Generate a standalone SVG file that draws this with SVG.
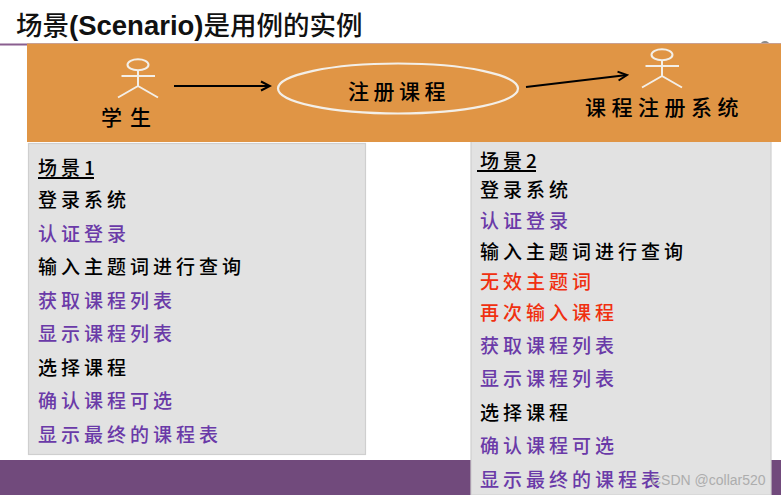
<svg xmlns="http://www.w3.org/2000/svg" width="781" height="495" viewBox="0 0 781 495">
<style>
text{font-family:"Noto Sans CJK SC","Noto Sans CJK JP",sans-serif;font-size:19px;letter-spacing:4px;font-weight:500}
.k{fill:#000}.p{fill:#6a3aa8}.r{fill:#f03010}
.panel{fill:#e2e2e2;stroke:#cfcfcf;stroke-width:1.2}
.actor{fill:none;stroke:#f3efe8;stroke-width:2}
.conn{stroke:#000;stroke-width:2;fill:none;marker-end:url(#a)}
</style>
<defs>
<marker id="a" markerUnits="userSpaceOnUse" markerWidth="12" markerHeight="12" refX="10" refY="6" orient="auto"><path d="M1 1.500L10 6L1 10.500" fill="none" stroke="#000" stroke-width="2"/></marker>
<g id="stick"><ellipse cx="0" cy="-8.300" rx="10.500" ry="5.500" class="actor"/><path class="actor" d="M0-2.800V13M-16.500 3H17M0 13L-20 24.500M0 13L20 24.500"/></g>
</defs>
<rect width="781" height="495" fill="#fff"/>
<g id="title">
<text x="16" y="35" style="font-family:'Liberation Sans','Noto Sans CJK SC',sans-serif;font-size:26.500px;letter-spacing:0;font-weight:500;fill:#111">场景<tspan font-weight="700" style="font-size:27.500px">(Scenario)</tspan>是用例的实例</text>
<rect x="0" y="43.500" width="27" height="2" fill="#8a5f8f"/>
<circle cx="765" cy="46" r="5" fill="#8c8c8c"/>
</g>
<rect id="footer" x="0" y="460" width="781" height="35" fill="#714a7c"/>
<rect id="band" x="27" y="43.500" width="754" height="98.500" fill="#e09545"/>
<rect x="27" y="43" width="754" height="1" fill="#c9a090"/>
<g id="actor-student"><use href="#stick" x="138" y="73"/><text x="101" y="125" class="k" style="font-size:21px;letter-spacing:8px">学生</text></g>
<g id="usecase"><ellipse cx="398" cy="88.500" rx="120" ry="25" fill="none" stroke="#f3efe8" stroke-width="2.200"/><text x="348" y="99" class="k" style="font-size:21px;letter-spacing:4.500px">注册课程</text></g>
<g id="actor-system"><use href="#stick" x="662" y="63"/><text x="585" y="115" class="k" style="font-size:21px;letter-spacing:5.500px">课程注册系统</text></g>
<g id="connectors">
<path class="conn" d="M174 86H270"/>
<path class="conn" d="M526 87L627 75"/>
</g>
<g id="scenario-1">
<rect class="panel" x="28.500" y="143.500" width="337" height="311"/>
<text x="38" y="175" class="k">场景1</text><rect x="38" y="177" width="56" height="2" fill="#000"/>
<text x="38" y="207" class="k">登录系统</text>
<text x="38" y="241" class="p">认证登录</text>
<text x="38" y="274" class="k">输入主题词进行查询</text>
<text x="38" y="308" class="p">获取课程列表</text>
<text x="38" y="341" class="p">显示课程列表</text>
<text x="38" y="375" class="k">选择课程</text>
<text x="38" y="408" class="p">确认课程可选</text>
<text x="38" y="442" class="p">显示最终的课程表</text>
</g>
<g id="scenario-2">
<path class="panel" d="M471 142V495H771V142"/>
<text x="480" y="168" class="k">场景2</text><rect x="477" y="170" width="59" height="2" fill="#000"/>
<text x="480" y="197" class="k">登录系统</text>
<text x="480" y="228" class="p">认证登录</text>
<text x="480" y="259" class="k">输入主题词进行查询</text>
<text x="480" y="289" class="r">无效主题词</text>
<text x="480" y="320" class="r">再次输入课程</text>
<text x="480" y="353" class="p">获取课程列表</text>
<text x="480" y="386" class="p">显示课程列表</text>
<text x="480" y="420" class="k">选择课程</text>
<text x="480" y="453" class="p">确认课程可选</text>
<text x="480" y="487" class="p">显示最终的课程表</text>
</g>
<text x="651" y="485" style="font-family:'Liberation Sans',sans-serif;font-size:14px;letter-spacing:0;font-weight:400;fill:#a8a8a8;opacity:.9">CSDN @collar520</text>
</svg>
